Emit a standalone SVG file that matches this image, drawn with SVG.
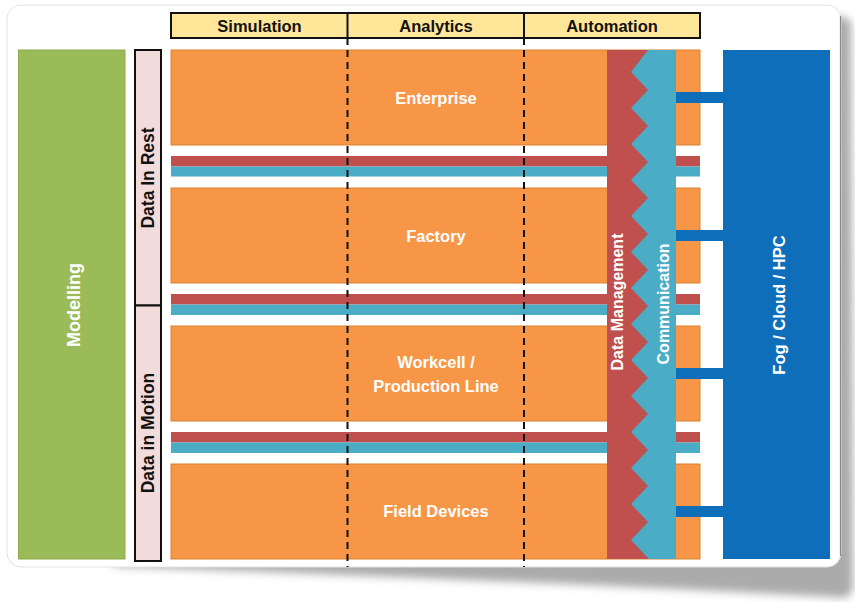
<svg xmlns="http://www.w3.org/2000/svg" width="855" height="602" viewBox="0 0 855 602">
  <defs>
    <filter id="blur" x="-10%" y="-10%" width="120%" height="130%">
      <feGaussianBlur stdDeviation="4"/>
    </filter>
    <style>
      text { font-family: "Liberation Sans", Arial, sans-serif; font-weight: bold; text-anchor: middle; }
      .row { fill: #F79646; stroke: #D9822F; stroke-width: 1; }
      .hdr { fill: #FFE699; stroke: #111; stroke-width: 2; }
      .wt { fill: #FFFFFF; font-size: 16.5px; }
      .bt { fill: #111111; font-size: 16.5px; }
      .lbl { fill: #111111; font-size: 17.5px; }
      .vt { fill: #FFFFFF; font-size: 16px; }
      .dash { stroke: #111; stroke-width: 2; stroke-dasharray: 7 5; fill: none; }
      .red { fill: #C0504D; }
      .teal { fill: #4BACC6; }
      .link { fill: #0F6EB9; }
    </style>
  </defs>

  <!-- card with shadow -->
  <g id="card">
    <path d="M 110 566 C 320 574, 600 584, 846 598 L 853 590 L 851 22 L 841 15 Z" fill="#ababab" filter="url(#blur)"/>
    <rect x="7" y="5" width="834" height="562" rx="14" fill="#FFFFFF" stroke="#E2E2E2" stroke-width="1"/>
    <line x1="840.5" y1="16" x2="840.5" y2="556" stroke="#8a8a8a" stroke-width="1.2"/>
  </g>

  <!-- Modelling -->
  <g id="modelling">
    <rect x="18.5" y="50" width="106.5" height="509" fill="#9BBB59" stroke="#8DAA4F" stroke-width="1"/>
    <text class="wt" style="font-size:18px" transform="translate(73,305) rotate(-90)" x="0" y="6.5">Modelling</text>
  </g>

  <!-- Data in rest / motion -->
  <g id="data-in-rest">
    <rect x="135" y="50" width="26" height="255.5" fill="#F2DCDB" stroke="#111" stroke-width="2"/>
    <text class="lbl" transform="translate(148,178) rotate(-90)" x="0" y="6.3">Data In Rest</text>
  </g>
  <g id="data-in-motion">
    <rect x="135" y="305.5" width="26" height="255.5" fill="#F2DCDB" stroke="#111" stroke-width="2"/>
    <text class="lbl" transform="translate(148,433) rotate(-90)" x="0" y="6.3">Data in Motion</text>
  </g>

  <!-- header -->
  <g id="header">
    <rect class="hdr" x="171" y="13" width="529" height="25"/>
    <line x1="347.5" y1="13" x2="347.5" y2="38" stroke="#111" stroke-width="2"/>
    <line x1="524" y1="13" x2="524" y2="38" stroke="#111" stroke-width="2"/>
    <text class="bt" x="259.5" y="31.5">Simulation</text>
    <text class="bt" x="436" y="31.5">Analytics</text>
    <text class="bt" x="612" y="31.5">Automation</text>
  </g>

  <!-- rows -->
  <g id="enterprise">
    <rect class="row" x="171" y="50" width="529" height="95"/>
  </g>
  <g id="factory">
    <rect class="row" x="171" y="188" width="529" height="95"/>
  </g>
  <g id="workcell">
    <rect class="row" x="171" y="326" width="529" height="95"/>
  </g>
  <g id="field-devices">
    <rect class="row" x="171" y="464" width="529" height="95"/>
  </g>

  <!-- bands -->
  <g id="bands">
    <rect class="red" x="171" y="156" width="529" height="10.5"/>
    <rect class="teal" x="171" y="166.5" width="529" height="10"/>
    <rect class="red" x="171" y="294" width="529" height="10.5"/>
    <rect class="teal" x="171" y="304.5" width="529" height="10.5"/>
    <rect class="red" x="171" y="432" width="529" height="10.5"/>
    <rect class="teal" x="171" y="442.5" width="529" height="10.5"/>
  </g>

  <!-- dashed column dividers -->
  <g id="dividers">
    <line class="dash" x1="347.5" y1="38" x2="347.5" y2="567"/>
    <line class="dash" x1="524" y1="38" x2="524" y2="567"/>
  </g>

  <!-- row labels -->
  <g id="row-labels">
    <text class="wt" x="436" y="103.5">Enterprise</text>
    <text class="wt" x="436" y="241.5">Factory</text>
    <text class="wt" x="436" y="367.5">Workcell /</text>
    <text class="wt" x="436" y="391.5">Production Line</text>
    <text class="wt" x="436" y="517">Field Devices</text>
  </g>

  <!-- Data Management / Communication -->
  <g id="data-management">
    <rect class="red" x="607" y="50" width="42" height="509"/>
    <text class="vt" transform="translate(617,302) rotate(-90)" x="0" y="6">Data Management</text>
  </g>
  <g id="communication">
    <path class="teal" d="M 648 50 L 631 72 L 648 90 L 631 108 L 648 126 L 631 144 L 648 162 L 631 180 L 648 198 L 631 216 L 648 234 L 631 252 L 648 270 L 631 288 L 648 306 L 631 324 L 648 342 L 631 360 L 648 378 L 631 396 L 648 414 L 631 432 L 648 450 L 631 468 L 648 486 L 631 504 L 648 522 L 631 540 L 648 558 L 648 559 L 676 559 L 676 50 Z"/>
    <text class="vt" transform="translate(663,304) rotate(-90)" x="0" y="6">Communication</text>
  </g>

  <!-- connectors -->
  <g id="connectors">
    <rect class="link" x="676" y="92" width="48" height="11"/>
    <rect class="link" x="676" y="230" width="48" height="11"/>
    <rect class="link" x="676" y="368" width="48" height="11"/>
    <rect class="link" x="676" y="506" width="48" height="11"/>
  </g>

  <!-- Fog / Cloud / HPC -->
  <g id="fog-cloud-hpc">
    <rect x="723" y="50" width="107" height="509" fill="#0F6EB9"/>
    <text class="vt" style="font-size:16.5px" transform="translate(779,305) rotate(-90)" x="0" y="6">Fog / Cloud / HPC</text>
  </g>
</svg>
